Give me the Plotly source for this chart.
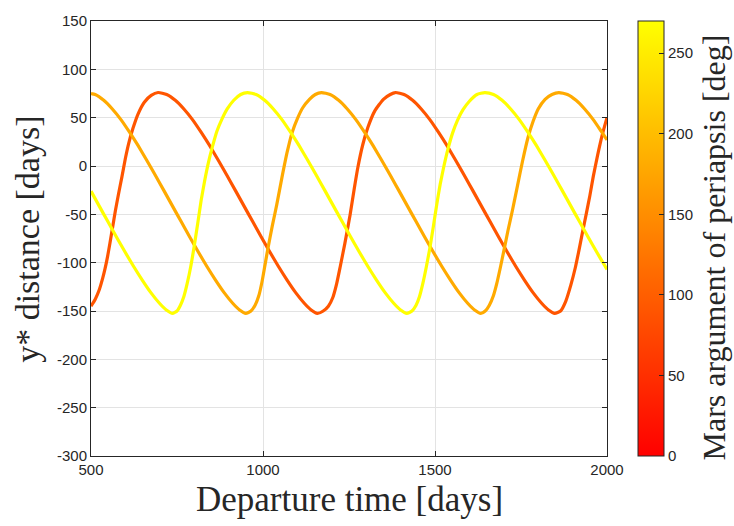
import plotly.graph_objects as go
from plotly.colors import sample_colorscale

# ---------------- data ----------------
omega_values = [90, 180, 270]          # Mars argument of periapsis [deg] per curve
cbar_ticks = [0, 50, 100, 150, 200, 250]
x_ticks = [500, 1000, 1500, 2000]
y_ticks = [-300, -250, -200, -150, -100, -50, 0, 50, 100, 150]
y_tick_labels = ["-300", "-250", "-200", "-150", "-100", "-50", "0", "50", "100", "150"]

red_x = [500, 512, 524, 534, 541, 548, 555, 563, 571, 580, 590, 600, 610, 622, 637, 655, 675, 695,
         720, 745, 770, 795, 820, 845, 870, 895, 920, 945, 970, 995, 1020, 1045, 1070, 1095, 1120, 1140, 1158,
         1175, 1190, 1203, 1214, 1224, 1238, 1253, 1265, 1276, 1290, 1305, 1325, 1350, 1370, 1385,
         1410, 1435, 1460, 1485, 1510, 1535, 1560, 1585, 1610, 1635, 1660, 1685, 1710, 1735, 1760, 1785, 1810, 1830, 1848,
         1865, 1880, 1895, 1908, 1918, 1928, 1940, 1950, 1960, 1972, 1986, 2000]
red_y = [-145, -138, -128, -116, -106, -94, -80, -63, -46, -29, -11, 8, 24, 39, 54, 66, 73, 76,
         74, 68, 59, 48, 35, 21, 6, -9.5, -25.5, -41.5, -57.5, -73.5, -89, -104, -118, -131, -142, -149, -152.5,
         -150, -145, -136, -122, -105, -80, -51, -24, -1, 22, 40, 57, 69, 74, 76,
         74, 68, 59, 48, 35, 21, 6, -9.5, -25.5, -41.5, -57.5, -73.5, -89, -104, -118, -131, -142, -149, -152.5,
         -150, -140, -123, -105, -88, -70, -49, -31, -11, 10, 32, 50]

orange_x = [500, 512, 537, 562, 587, 612, 637, 662, 687, 712, 737, 762, 787, 812, 837, 862, 887, 912, 932, 950,
            965, 977, 988, 997, 1006, 1015, 1027, 1040, 1055, 1070, 1085, 1100, 1115, 1135, 1152, 1170,
            1195, 1220, 1245, 1270, 1295, 1320, 1345, 1370, 1395, 1420, 1445, 1470, 1495, 1520, 1545, 1570, 1595, 1615, 1633,
            1646, 1658, 1670, 1680, 1690, 1700, 1712, 1725, 1740, 1755, 1770, 1785, 1800, 1820, 1840, 1860,
            1885, 1910, 1935, 1960, 1985, 2000]
orange_y = [75, 74, 68, 59, 48, 35, 21, 6, -9.5, -25.5, -41.5, -57.5, -73.5, -89, -104, -118, -131, -142, -149, -152.5,
            -150, -144, -134, -120, -102, -84, -62, -40, -12, 14, 35, 49, 60, 69, 74, 76,
            74, 68, 59, 48, 35, 21, 6, -9.5, -25.5, -41.5, -57.5, -73.5, -89, -104, -118, -131, -142, -149, -152.5,
            -150, -144, -134, -121, -105, -88, -67, -46, -20, 6, 29, 46, 59, 69, 74, 76,
            74, 68, 59, 48, 35, 27]

yellow_x = [500, 524, 549, 574, 599, 624, 649, 674, 699, 719, 737,
            750, 760, 770, 780, 790, 800, 810, 820, 830, 841, 853, 866, 880, 896, 915, 935, 955,
            980, 1005, 1030, 1055, 1080, 1105, 1130, 1155, 1180, 1205, 1230, 1255, 1280, 1305, 1330, 1355, 1380, 1400, 1418,
            1433, 1445, 1455, 1465, 1475, 1485, 1495, 1505, 1515, 1526, 1538, 1551, 1565, 1581, 1600, 1622, 1645,
            1670, 1695, 1720, 1745, 1770, 1795, 1820, 1845, 1870, 1895, 1920, 1945, 1970, 1995, 2000]
yellow_y = [-26, -41.5, -57.5, -73.5, -89, -104, -118, -131, -142, -149, -152.5,
            -150, -144, -135, -121, -104, -83, -60, -36, -16, 3, 20, 36, 48, 59, 68, 74, 76,
            74, 68, 59, 48, 35, 21, 6, -9.5, -25.5, -41.5, -57.5, -73.5, -89, -104, -118, -131, -142, -149, -152.5,
            -150, -144, -135, -121, -104, -85, -63, -40, -19, 0, 18, 34, 47, 58, 67, 74, 76,
            74, 68, 59, 48, 35, 21, 6, -9.5, -25.5, -41.5, -57.5, -73.5, -89, -104, -107]

curves = [(red_x, red_y), (orange_x, orange_y), (yellow_x, yellow_y)]

# ---------------- styling ----------------
autumn = [[0.0, "rgb(255,0,0)"], [1.0, "rgb(255,255,0)"]]
cmin, cmax = 0, 270
axis_col = "#262626"
tick_font = dict(family="Liberation Sans, Arial, sans-serif", size=15, color=axis_col)
serif = "Liberation Serif, Times New Roman, serif"

fig = go.Figure()
for (xs, ys), om in zip(curves, omega_values):
    col = sample_colorscale(autumn, (om - cmin) / (cmax - cmin))[0]
    fig.add_trace(go.Scatter(x=xs, y=ys, mode="lines",
                             line=dict(color=col, width=3.2, shape="spline", smoothing=0.5),
                             showlegend=False, hoverinfo="skip"))

# colorbar carrier
fig.add_trace(go.Scatter(x=[None, None], y=[None, None], mode="markers",
                         marker=dict(color=[cmin, cmax], colorscale=autumn, cmin=cmin, cmax=cmax,
                                     showscale=True,
                                     colorbar=dict(x=1.06, xanchor="left", y=0.5, yanchor="middle",
                                                   len=1.0, lenmode="fraction", thickness=26,
                                                   outlinewidth=1, outlinecolor=axis_col,
                                                   tickvals=cbar_ticks, ticks="inside", ticklen=5,
                                                   tickcolor=axis_col, tickfont=tick_font,
                                                   xpad=0, ypad=0)),
                         showlegend=False, hoverinfo="skip"))

fig.update_xaxes(range=[500, 2000], tickvals=x_ticks, showgrid=True, gridcolor="#e3e3e3",
                 gridwidth=1, zeroline=False, showline=True, linecolor=axis_col, linewidth=1,
                 mirror="ticks", ticks="inside", ticklen=5, tickcolor=axis_col, tickfont=tick_font)
fig.update_yaxes(range=[-300, 150], tickvals=y_ticks, ticktext=y_tick_labels, showgrid=True,
                 gridcolor="#e3e3e3", gridwidth=1, zeroline=False, showline=True, linecolor=axis_col,
                 linewidth=1, mirror="ticks", ticks="inside", ticklen=5, tickcolor=axis_col,
                 tickfont=tick_font)

fig.add_annotation(text="Departure time [days]", xref="paper", yref="paper", x=0.5, y=-0.0998,
                   xanchor="center", yanchor="middle", showarrow=False,
                   font=dict(family=serif, size=35, color=axis_col))
fig.add_annotation(text="y* distance [days]", xref="paper", yref="paper", x=-0.122, y=0.497,
                   xanchor="center", yanchor="middle", showarrow=False, textangle=-90,
                   font=dict(family=serif, size=34, color=axis_col))
fig.add_annotation(text="Mars argument of periapsis [deg]", xref="paper", yref="paper", x=1.208, y=0.48,
                   xanchor="center", yanchor="middle", showarrow=False, textangle=-90,
                   font=dict(family=serif, size=32, color=axis_col))

fig.update_layout(width=734, height=526, margin=dict(l=91, r=127, t=15, b=70),
                  paper_bgcolor="white", plot_bgcolor="white")

fig.write_html("out.html")
